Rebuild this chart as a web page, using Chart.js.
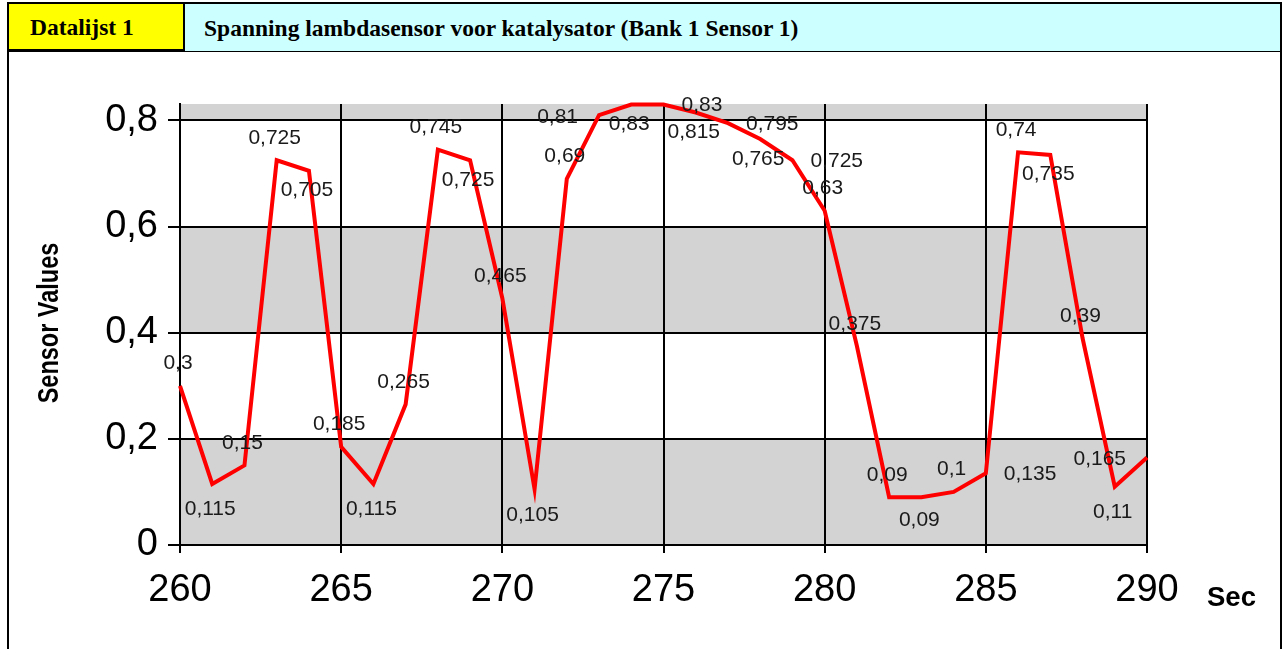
<!DOCTYPE html>
<html>
<head>
<meta charset="utf-8">
<script src="https://cdn.jsdelivr.net/npm/chart.js@4.4.0/dist/chart.umd.min.js"></script>
<style>
  html, body { margin: 0; padding: 0; background: #fff; width: 1284px; height: 649px; overflow: hidden; }
  #frame { position: absolute; left: 7px; top: 2px; width: 1271px; height: 700px; border: 2px solid #000; }
  #hdr { position: absolute; left: 0; top: 0; width: 1271px; height: 45px; border-bottom: 3px solid #000; display: flex;
         font-family: "Liberation Serif", "Times New Roman", serif; font-weight: bold; font-size: 23.5px; color: #000; }
  #c1 { box-sizing: border-box; width: 176px; height: 45px; background: #ffff00; border-right: 2px solid #000; padding-left: 21px;
        display: flex; align-items: center; padding-top: 2px; white-space: nowrap; }
  #c2 { flex: 1; height: 45px; background: #ccffff; padding-left: 19px; display: flex; align-items: center; padding-top: 2px; white-space: nowrap; }
  #chart { position: absolute; left: 0; top: 0; z-index: 2; }
</style>
</head>
<body>
<div id="frame">
  <div id="hdr">
    <div id="c1">Datalijst 1</div>
    <div id="c2">Spanning lambdasensor voor katalysator (Bank 1 Sensor 1)</div>
  </div>
</div>
<canvas id="chart" width="1284" height="649"></canvas>
<script>
// ---- data ----
const seconds = [260, 261, 262, 263, 264, 265, 266, 267, 268, 269, 270,
                 271, 272, 273, 274, 275, 276, 277, 278, 279, 280,
                 281, 282, 283, 284, 285, 286, 287, 288, 289, 290];
const sensorValues = [0.3, 0.115, 0.15, 0.725, 0.705, 0.185, 0.115, 0.265, 0.745, 0.725, 0.465,
                      0.105, 0.69, 0.81, 0.83, 0.83, 0.815, 0.795, 0.765, 0.725, 0.63,
                      0.375, 0.09, 0.09, 0.1, 0.135, 0.74, 0.735, 0.39, 0.11, 0.165];
// label placement: a = above, b = below, d = below (trough), l = left, r = right
const labelPlacement = ['a','d','a','a','b','a','d','a','a','b','a',
                        'd','a','l','b','r','b','r','b','r','a',
                        'a','a','c','a','r','a','b','a','d','l'];
const xTickValues = [260, 265, 270, 275, 280, 285, 290];
const yTickValues = [0, 0.2, 0.4, 0.6, 0.8];
const yTitle = 'Sensor Values';
const xTitle = 'Sec';

const fmt = v => String(Math.round(v * 1000) / 1000).replace('.', ',');
const SANS = '"Liberation Sans", Arial, sans-serif';

const bandsPlugin = {
  id: 'bands',
  beforeDraw(chart) {
    const { ctx, chartArea, scales } = chart;
    const y = scales.y;
    const bands = [[0, 0.2], [0.4, 0.6], [0.8, y.max]];
    ctx.save();
    ctx.fillStyle = '#d3d3d3';
    bands.forEach(([a, b]) => {
      const top = y.getPixelForValue(b), bot = y.getPixelForValue(a);
      ctx.fillRect(chartArea.left, top, chartArea.right - chartArea.left, bot - top);
    });
    ctx.restore();
  }
};

const labelsPlugin = {
  id: 'valueLabels',
  afterDatasetsDraw(chart) {
    const { ctx } = chart;
    const meta = chart.getDatasetMeta(0);
    ctx.save();
    ctx.font = '21px ' + SANS;
    ctx.fillStyle = '#1a1a1a';
    ctx.textBaseline = 'alphabetic';
    const half = 0.358 * 21;
    meta.data.forEach((pt, i) => {
      const txt = fmt(sensorValues[i]);
      const p = labelPlacement[i];
      let x = pt.x, cy = pt.y, align = 'center';
      if (p === 'a') { x -= 2; cy -= 24; }
      else if (p === 'b') { x -= 2; cy += 18; }
      else if (p === 'c') { x -= 2; cy += 21; }
      else if (p === 'd') { x -= 2; cy += 24; }
      else if (p === 'l') { x -= 21; align = 'right'; }
      else if (p === 'r') { x += 18; align = 'left'; cy -= 1; }
      ctx.textAlign = align;
      ctx.fillText(txt, x, cy + half);
    });
    ctx.restore();
  }
};

const titlesPlugin = {
  id: 'axisTitles',
  afterDraw(chart) {
    const { ctx } = chart;
    ctx.save();
    ctx.fillStyle = '#000';
    ctx.font = 'bold 29px ' + SANS;
    ctx.translate(57.5, 323);
    ctx.rotate(-Math.PI / 2);
    ctx.scale(0.81, 1);
    ctx.textAlign = 'center';
    ctx.textBaseline = 'alphabetic';
    ctx.fillText(yTitle, 0, 0);
    ctx.restore();

    ctx.save();
    ctx.fillStyle = '#000';
    ctx.font = 'bold 27.5px ' + SANS;
    ctx.textAlign = 'left';
    ctx.textBaseline = 'alphabetic';
    ctx.fillText(xTitle, 1207, 606);
    ctx.restore();
  }
};

new Chart(document.getElementById('chart'), {
  type: 'line',
  data: {
    datasets: [{
      data: seconds.map((s, i) => ({ x: s, y: sensorValues[i] })),
      borderColor: '#ff0000',
      borderWidth: 4,
      pointRadius: 0,
      tension: 0,
      fill: false,
      clip: false
    }]
  },
  options: {
    responsive: false,
    animation: false,
    devicePixelRatio: 1,
    layout: { padding: { left: 0, right: 137, top: 104, bottom: 0 } },
    plugins: { legend: { display: false }, tooltip: { enabled: false } },
    scales: {
      x: {
        type: 'linear',
        min: 260, max: 290,
        afterBuildTicks: s => { s.ticks = xTickValues.map(v => ({ value: v })); },
        afterFit: s => { s.height = 104; },
        ticks: { font: { family: SANS, size: 38 }, color: '#000', padding: 15, maxRotation: 0, autoSkip: false,
                 callback: v => String(v) },
        grid: { color: '#000', lineWidth: 2, tickLength: 8, drawTicks: true },
        border: { display: true, color: '#000', width: 2 }
      },
      y: {
        type: 'linear',
        min: 0, max: 0.831,
        afterBuildTicks: s => { s.ticks = yTickValues.map(v => ({ value: v })); },
        afterFit: s => { s.width = 180; },
        ticks: { font: { family: SANS, size: 38 }, color: '#000', padding: 10, autoSkip: false,
                 callback: v => fmt(v) },
        grid: { color: '#000', lineWidth: 2, tickLength: 12, drawTicks: true },
        border: { display: true, color: '#000', width: 2 }
      }
    }
  },
  plugins: [bandsPlugin, labelsPlugin, titlesPlugin]
});
</script>
</body>
</html>
